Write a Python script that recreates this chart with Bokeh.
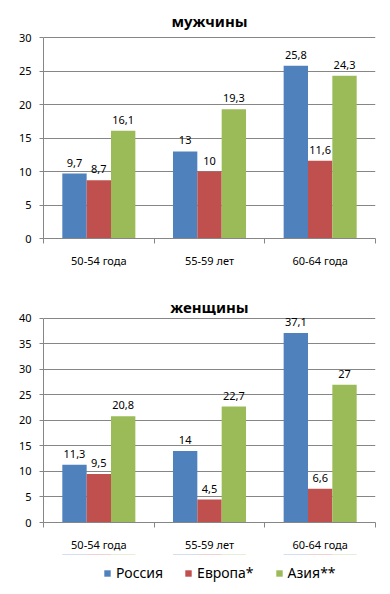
from bokeh.plotting import figure
from bokeh.models import (Range1d, FixedTicker, ColumnDataSource, LabelSet,
                          Legend, LegendItem, Label)
from bokeh.core.properties import value
from bokeh.layouts import column
from bokeh.embed import file_html
from bokeh.resources import INLINE

categories = ["50-54 года", "55-59 лет", "60-64 года"]
series_names = ["Россия", "Европа*", "Азия**"]
colors = ["#4F81BD", "#C0504D", "#9BBB59"]

men_russia = [9.7, 13, 25.8]
men_europe = [8.7, 10, 11.6]
men_asia = [16.1, 19.3, 24.3]

women_russia = [11.3, 14, 37.1]
women_europe = [9.5, 4.5, 6.6]
women_asia = [20.8, 22.7, 27]

men_ticks = [0, 5, 10, 15, 20, 25, 30]
women_ticks = [0, 5, 10, 15, 20, 25, 30, 35, 40]

FONT = "Noto Sans"
BAR_W = 0.22
OFFSETS = [-BAR_W, 0.0, BAR_W]


def fmt(v):
    s = ("%g" % v)
    return s.replace(".", ",")


def make_chart(title, series, yticks, height, frame_bottom, top_tick_px, title_px):
    # frame spans whole top of the figure; the axis ends at the top tick
    top_val = yticks[-1]
    per_px = top_val / (frame_bottom - top_tick_px)
    y_end = frame_bottom * per_px
    p = figure(width=390, height=height, output_backend="svg", title=None,
               toolbar_location=None, x_range=Range1d(0, len(categories)),
               y_range=Range1d(yticks[0], y_end),
               min_border_left=43, min_border_right=15,
               min_border_top=0, min_border_bottom=height - frame_bottom)
    p.outline_line_color = None
    p.background_fill_color = "white"
    p.border_fill_color = "white"

    p.add_layout(Label(x=len(categories) / 2, y=(frame_bottom - title_px) * per_px,
                       text=title, text_align="center", text_baseline="middle",
                       text_font=FONT, text_font_size="15px",
                       text_font_style="bold", text_color="#000000"))

    sources = []
    for i, vals in enumerate(series):
        xs = [k + 0.5 + OFFSETS[i] for k in range(len(categories))]
        src = ColumnDataSource(dict(x=xs, top=vals, lab=[fmt(v) for v in vals]))
        sources.append(src)
        p.vbar(x="x", top="top", width=BAR_W, bottom=0, source=src,
               fill_color=colors[i], line_color=None)
        ls = LabelSet(x="x", y="top", text="lab", source=src,
                      text_align="center", text_baseline="bottom",
                      y_offset=7, text_font=value(FONT),
                      text_font_size=value("11px"),
                      text_color=value("#000000"))
        p.add_layout(ls)

    # y axis
    p.yaxis.ticker = FixedTicker(ticks=yticks)
    p.yaxis.bounds = (yticks[0], yticks[-1])
    p.yaxis.axis_line_color = "#868686"
    p.yaxis.major_tick_line_color = "#868686"
    p.yaxis.major_tick_out = 4
    p.yaxis.major_tick_in = 0
    p.yaxis.minor_tick_line_color = None
    p.yaxis.major_label_standoff = 8
    p.yaxis.major_label_text_font = FONT
    p.yaxis.major_label_text_font_size = "11px"
    p.yaxis.major_label_text_color = "#000000"
    p.ygrid.grid_line_color = "#868686"
    p.ygrid.ticker = FixedTicker(ticks=yticks)
    p.xgrid.grid_line_color = None

    # x axis
    centers = [k + 0.5 for k in range(len(categories))]
    bounds = list(range(len(categories) + 1))
    p.xaxis.ticker = FixedTicker(ticks=centers, minor_ticks=bounds)
    p.xaxis.major_label_overrides = {c: lab for c, lab in zip(centers, categories)}
    p.xaxis.axis_line_color = "#868686"
    p.xaxis.major_tick_line_color = None
    p.xaxis.major_tick_out = 0
    p.xaxis.major_tick_in = 0
    p.xaxis.minor_tick_line_color = "#868686"
    p.xaxis.minor_tick_out = 5
    p.xaxis.minor_tick_in = 0
    p.xaxis.major_label_standoff = 9
    p.xaxis.major_label_text_font = FONT
    p.xaxis.major_label_text_font_size = "11px"
    p.xaxis.major_label_text_color = "#000000"
    return p, sources


p1, _ = make_chart("мужчины", [men_russia, men_europe, men_asia],
                   men_ticks, 290, 238, 37, 20)
p2, srcs = make_chart("женщины", [women_russia, women_europe, women_asia],
                      women_ticks, 264, 234, 28, 17)

# legend strip (its renderers share the chart's data, kept out of view)
p3 = figure(width=390, height=40, output_backend="svg", toolbar_location=None,
            x_axis_location=None, y_axis_location=None, title=None,
            x_range=Range1d(0, len(categories)), y_range=Range1d(-2, -1),
            min_border=0)
p3.outline_line_color = None
p3.grid.grid_line_color = None
rs = []
for c, s in zip(colors, srcs):
    rs.append(p3.vbar(x="x", top="top", width=BAR_W, bottom=0, source=s,
                      fill_color=c, line_color=None))
legend = Legend(items=[LegendItem(label=n, renderers=[r]) for n, r in zip(series_names, rs)],
                orientation="horizontal", location=(60, 12),
                glyph_width=8, glyph_height=8, label_standoff=5, spacing=21,
                label_height=16, padding=0, margin=0, border_line_color=None,
                background_fill_alpha=0, label_text_font=FONT,
                label_text_font_size="14px", label_text_color="#000000")
p3.add_layout(legend, "center")

layout = column(p1, p2, p3, spacing=0)
open("out.html", "w").write(file_html(layout, INLINE))
